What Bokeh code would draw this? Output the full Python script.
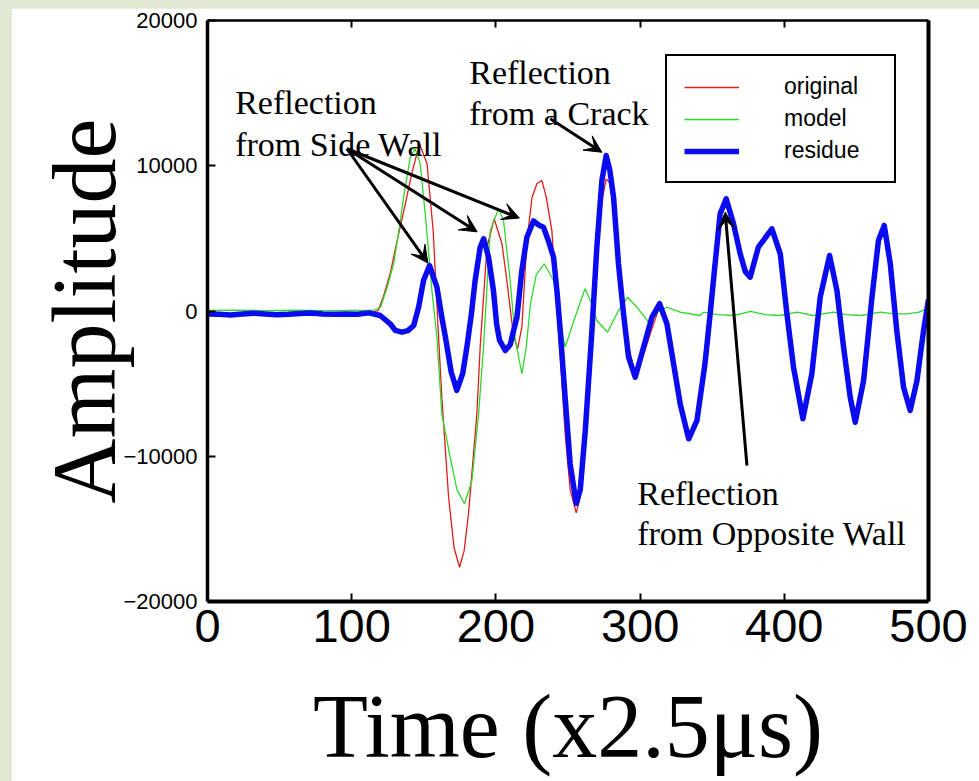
from bokeh.plotting import figure
from bokeh.models import (Range1d, LinearAxis, Legend, LegendItem, Arrow, VeeHead,
                          FixedTicker, ColumnDataSource)
from bokeh.layouts import column
from bokeh.embed import file_html
from bokeh.resources import INLINE
from bokeh.core.properties import value

# ---------------- data ----------------
residue_t = [0, 8, 16, 24, 32, 40, 48, 56, 64, 72, 80, 88, 96, 104, 112, 119.8, 126.7, 130.2,
             134.8, 139, 143, 146.4, 149.8, 154, 159.1, 162.5, 165, 169, 172.9, 177, 180, 181.5,
             183, 185.6, 189.1, 191.5, 194.9, 198.3, 200.5, 202.5, 206.5, 210, 212.3, 214.6, 218,
             221.5, 226.1, 230, 233, 236.5, 240, 242.5, 244.6, 248, 251.5, 255.7, 258.5, 262,
             266.6, 270, 273.5, 276.5, 279, 281.6, 285, 288.5, 292, 296.6, 302.4, 308.2, 313.5,
             318.6, 323.2, 327.8, 333.7, 339.4, 345, 348.6, 352, 355.5, 359.7, 364.8, 369.4, 373,
             376.3, 382, 391.4, 397.2, 401.8, 406.4, 412.9, 419.1, 424.9, 431.4, 436.5, 441.1,
             445.7, 449.2, 455, 460.8, 465.3, 469.3, 473.5, 478, 482.7, 487.3, 492, 496.6, 500]
residue_amp = [-200, -230, -270, -200, -150, -200, -260, -230, -170, -140, -200, -230, -200, -220,
               -130, -310, -880, -1340, -1460, -1350, -1000, 260, 2100, 3130, 1640, -430, -1800,
               -4200, -5470, -4300, -2400, -1300, -200, 2100, 4390, 4970, 3700, 1410, -900, -2000,
               -2720, -2300, -1340, -430, 2790, 5080, 6200, 5900, 5770, 4800, 3700, 1200, -1340,
               -5930, -10520, -13250, -12300, -8230, -1340, 4390, 8980, 10700, 9700, 7830, 3250,
               -190, -3180, -4560, -2490, -430, 500, -880, -3630, -6390, -8800, -7540, -3630, -190,
               3250, 6690, 7720, 6000, 3940, 2700, 2330, 4390, 5660, 3940, -190, -3870, -7420,
               -4320, 950, 3820, 1410, -2490, -5930, -7660, -4790, 950, 4850, 5890, 3250, -1340,
               -5250, -6850, -4790, -1340, 800]

original_t = [0, 20, 40, 60, 80, 100, 112, 118.4, 122, 126.7, 131, 135.7, 141.7, 147, 152.2, 156.5,
              160, 162.5, 167.2, 171, 174.8, 178, 181, 186.8, 189.1, 193.8, 198.8, 204.2, 207.6,
              212.2, 215, 218, 221.5, 225, 228.4, 231.9, 235, 238.8, 241.5, 244.6, 248, 251.5,
              255.7, 258.5, 262, 266.6, 270, 273.5, 276.5, 279, 281.6, 285, 288.5, 292, 296.6,
              302.4, 308.2, 313.5, 318.6, 323.2, 327.8, 333.7, 339.4, 345, 348.6, 352, 355.5,
              359.7, 364.8, 369.4, 376.3, 382, 391.4, 397.2, 401.8, 406.4, 412.9, 419.1, 424.9,
              431.4, 436.5, 441.1, 445.7, 449.2, 455, 460.8, 465.3, 469.3, 473.5, 478, 482.7,
              487.3, 492, 496.6, 500]
original_amp = [-180, -240, -180, -250, -180, -210, -130, 30, 1000, 2580, 4600, 6710, 9470, 11510,
                10160, 5540, -1340, -5930, -12820, -16300, -17640, -16500, -13960, -7080, -2490,
                4390, 6350, 4630, 2100, -1690, -2600, -1120, 4800, 7800, 8760, 8980, 7800, 5540,
                1500, -3100, -8400, -12300, -13900, -12800, -6900, -840, 3600, 7600, 9100, 8800,
                7000, 3100, 300, -2400, -4360, -3000, -1230, 300, -620, -3630, -6390, -8800,
                -7540, -3630, -190, 3250, 6690, 7720, 6000, 3940, 2330, 4390, 5660, 3940, -190,
                -3870, -7420, -4320, 950, 3820, 1410, -2490, -5930, -7660, -4790, 950, 4850, 5890,
                3250, -1340, -5250, -6850, -4790, -1340, 800]

model_t = [0, 20, 40, 60, 80, 100, 112, 116, 120, 124.5, 129.1, 132.5, 136, 140.6, 144, 147.5,
           151, 155.6, 159.1, 162.5, 168.3, 173, 178.2, 183.4, 188, 191.4, 196.1, 201.8, 205.3,
           209.9, 213.5, 218, 221, 224, 228, 233.5, 240, 244, 248, 254.9, 261.8, 266, 270, 277.4,
           285, 291.3, 297.8, 305.8, 311.7, 318.6, 327.8, 341.6, 344, 354, 365, 376.6, 387, 397,
           409, 420, 434, 443, 453, 466.7, 476, 485, 493, 500]
model_amp = [40, 60, 30, 50, 30, 40, 40, 80, 260, 1600, 3250, 5400, 7830, 10590, 11170, 10130,
             6690, 1410, -1800, -7080, -10070, -12300, -13270, -11670, -7080, -2490, 5540, 7040,
             6230, 2100, -2000, -4320, -2500, 500, 2500, 3250, 2100, -400, -2490, -430, 1530, 600,
             -650, -1460, 30, 950, 260, -770, -80, 260, -80, -310, -80, -250, -310, -30, -250,
             -310, -80, -310, -80, -250, -310, -80, -200, -200, -100, 200]

x_ticks = [0, 100, 200, 300, 400, 500]
y_ticks = [-20000, -10000, 0, 10000, 20000]
series_labels = ["original", "model", "residue"]

note_text = ["Reflection", "from Side Wall", "Reflection", "from a Crack",
             "Reflection", "from Opposite Wall"]
note_x = [19.2, 19.2, 181.5, 181.5, 298, 298]
note_y = [14375, 11460, 16440, 13580, -12545, -15340]

arrow_x0 = [96.7, 96.7, 96.7, 237.7, 374.1]
arrow_y0 = [11170, 11170, 11170, 13230, -10640]
arrow_x1 = [152.8, 187.0, 216.3, 273.5, 359.0]
arrow_y1 = [3300, 5450, 6400, 10930, 6800]

# ---------------- styling ----------------
BG = "#dfe8d2"
RED = "#e31a1a"
GREEN = "#2fd82f"
BLUE = "#0b0bf0"
SANS = "Liberation Sans"
SERIF = "Liberation Serif"

p = figure(width=968, height=773, x_range=Range1d(0, 500), y_range=Range1d(-20000, 20000),
           output_backend="svg", toolbar_location=None,
           min_border_left=196, min_border_right=51, min_border_top=12, min_border_bottom=180,
           x_axis_label="Time (x2.5\u03bcs)", y_axis_label="Amplitude",
           background_fill_color="white", border_fill_color="white")
p.margin = (8, 0, 0, 11)
p.grid.visible = False
p.outline_line_color = None

# bottom axis
xa = p.xaxis[0]
xa.ticker = FixedTicker(ticks=x_ticks)
xa.axis_line_width = 4
xa.axis_line_color = "black"
xa.major_tick_in = 8
xa.major_tick_out = 0
xa.major_tick_line_width = 2
xa.major_tick_line_color = "black"
xa.minor_tick_line_color = None
xa.major_label_text_font = SANS
xa.major_label_text_font_size = "47px"
xa.major_label_text_color = "black"
xa.major_label_standoff = 8
xa.axis_label_text_font = SERIF
xa.axis_label_text_font_size = "90px"
xa.axis_label_text_font_style = "normal"
xa.axis_label_text_color = "black"
xa.axis_label_standoff = 32

# left axis
ya = p.yaxis[0]
ya.ticker = FixedTicker(ticks=y_ticks)
ya.axis_line_width = 3.5
ya.axis_line_color = "black"
ya.major_tick_in = 8
ya.major_tick_out = 0
ya.major_tick_line_width = 2
ya.major_tick_line_color = "black"
ya.minor_tick_line_color = None
ya.major_label_text_font = SANS
ya.major_label_text_font_size = "22px"
ya.major_label_text_color = "black"
ya.major_label_standoff = 10
ya.axis_label_text_font = SERIF
ya.axis_label_text_font_size = "90px"
ya.axis_label_text_font_style = "normal"
ya.axis_label_text_color = "black"
ya.axis_label_standoff = -14

# top axis (ticks only)
top = LinearAxis(ticker=FixedTicker(ticks=x_ticks), axis_line_width=2.5, axis_line_color="black",
                 major_tick_in=7, major_tick_out=0, major_tick_line_width=2,
                 major_tick_line_color="black", minor_tick_line_color=None,
                 major_label_text_font_size="1px", major_label_text_color=None,
                 major_label_standoff=0)
p.add_layout(top, "above")
# right axis (plain line)
right = LinearAxis(ticker=FixedTicker(ticks=y_ticks), axis_line_width=4, axis_line_color="black",
                   major_tick_in=0, major_tick_out=0, major_tick_line_color=None,
                   minor_tick_line_color=None, major_label_text_font_size="1px",
                   major_label_text_color=None, major_label_standoff=0)
p.add_layout(right, "right")

r_orig = p.line(original_t, original_amp, line_color=RED, line_width=1.3)
r_model = p.line(model_t, model_amp, line_color=GREEN, line_width=1.3)
r_res = p.line(residue_t, residue_amp, line_color=BLUE, line_width=5.5, line_join="round")

legend = Legend(items=[LegendItem(label=series_labels[0], renderers=[r_orig]),
                       LegendItem(label=series_labels[1], renderers=[r_model]),
                       LegendItem(label=series_labels[2], renderers=[r_res])],
                location=(458, 418), padding=17, spacing=5, margin=0,
                glyph_width=55, glyph_height=20, label_height=20, label_width=93,
                label_standoff=45, label_text_font=SANS, label_text_font_size="23px",
                label_text_color="black",
                border_line_color="black", border_line_width=2, border_line_alpha=1,
                background_fill_color="white", background_fill_alpha=1)
p.add_layout(legend)

notes = ColumnDataSource(data=dict(x=note_x, y=note_y, text=note_text))
p.text(x="x", y="y", text="text", source=notes, text_font=value(SERIF),
       text_font_size="34px", text_color="black", text_align="left",
       text_baseline="alphabetic")

arrows = ColumnDataSource(data=dict(x0=arrow_x0, y0=arrow_y0, x1=arrow_x1, y1=arrow_y1))
p.add_layout(Arrow(source=arrows, x_start="x0", y_start="y0", x_end="x1", y_end="y1",
                   line_color="black", line_width=3,
                   end=VeeHead(size=17, fill_color="black", line_color="black", line_width=1)))

layout = column(p, styles={"background-color": BG})

html = file_html(layout, INLINE)
html = html.replace("<body>", '<body style="margin:0;background-color:%s;">' % BG)
open("out.html", "w").write(html)
